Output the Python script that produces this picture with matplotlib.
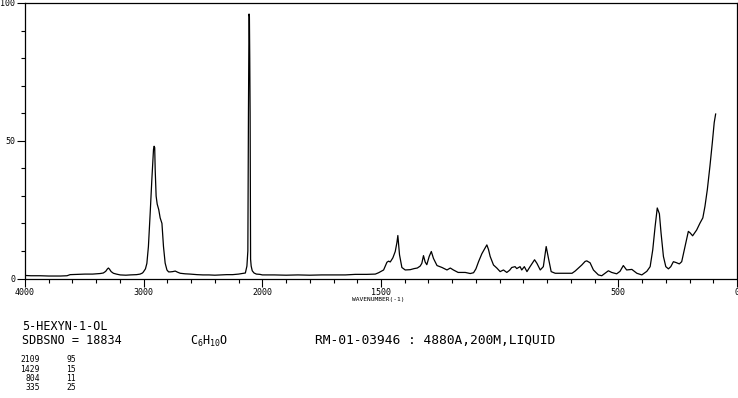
import numpy as np
import matplotlib
matplotlib.use("Agg")
import matplotlib.pyplot as plt
from matplotlib.ticker import FixedLocator

# Raman spectrum of 5-hexyn-1-ol
wavenumber = [
    4000, 3950, 3873, 3800, 3700, 3646, 3620, 3560, 3494, 3430, 3367, 3340, 3320, 3305,
    3297, 3288, 3274, 3255, 3230, 3198, 3150, 3114, 3060, 3030, 3010, 3002, 2985, 2973,
    2960, 2945, 2931, 2917, 2912, 2907, 2903, 2895, 2886, 2873, 2861, 2846, 2833, 2819,
    2804, 2790, 2776, 2755, 2734, 2715, 2692, 2650, 2608, 2550, 2500, 2450, 2400, 2350,
    2300, 2250, 2200, 2170, 2143, 2130, 2122, 2117, 2112, 2109, 2106, 2103, 2099, 2094,
    2085, 2070, 2050, 2020, 2000, 1950, 1900, 1850, 1800, 1750, 1700, 1650, 1608, 1560,
    1524, 1510, 1489, 1475, 1468, 1461, 1450, 1440, 1433, 1429, 1422, 1412, 1398, 1377,
    1360, 1347, 1335, 1328, 1321, 1314, 1307, 1297, 1288, 1279, 1264, 1243, 1222, 1208,
    1195, 1175, 1145, 1124, 1110, 1100, 1089, 1075, 1062, 1054, 1047, 1040, 1026, 1012,
    998, 984, 970, 958, 949, 935, 928, 914, 907, 896, 885, 872, 853, 843,
    829, 816, 808, 804, 795, 783, 766, 737, 695, 682, 668, 654, 640, 633,
    619, 605, 584, 570, 556, 542, 528, 507, 493, 479, 465, 443, 422, 401,
    380, 366, 355, 345, 336, 327, 320, 310, 300, 289, 279, 268, 257, 243,
    233, 219, 205, 198, 187, 170, 156, 144, 135, 125, 114, 104, 96, 90,
]
intensity = [
    1.1, 1.0, 1.0, 0.9, 0.9, 1.0, 1.4, 1.5, 1.6, 1.6, 1.8, 2.0, 2.6, 3.5,
    3.8, 3.4, 2.5, 1.9, 1.6, 1.3, 1.2, 1.3, 1.4, 1.6, 2.0, 2.4, 3.5, 5.5,
    11.6, 23.8, 36.0, 46.9, 48.0, 47.5, 39.6, 29.9, 27.0, 25.0, 22.0, 20.0, 11.6, 5.6,
    3.1, 2.4, 2.4, 2.5, 2.7, 2.3, 1.9, 1.7, 1.6, 1.4, 1.3, 1.3, 1.2, 1.3,
    1.4, 1.4, 1.6, 1.8, 2.0, 4.5, 10.0, 60.0, 96.0, 95.0, 80.0, 60.0, 7.0, 4.5,
    2.8, 2.0, 1.6, 1.5, 1.3, 1.3, 1.2, 1.3, 1.2, 1.3, 1.3, 1.3, 1.5, 1.5,
    1.6, 2.1, 3.1, 5.9, 6.3, 6.0, 7.5, 9.8, 13.0, 15.6, 8.6, 4.0, 3.1, 3.2,
    3.6, 3.8, 4.5, 5.5, 8.3, 6.0, 5.0, 8.0, 9.8, 7.3, 4.7, 4.0, 3.1, 3.8,
    3.1, 2.2, 2.2, 1.8, 2.1, 3.5, 6.1, 9.0, 11.0, 12.2, 10.5, 8.0, 4.9, 3.8,
    2.5, 3.1, 2.2, 3.0, 4.0, 4.3, 3.6, 4.3, 3.1, 4.3, 2.5, 4.3, 6.8, 5.5,
    3.1, 4.3, 9.0, 11.6, 7.6, 2.5, 1.9, 1.9, 1.9, 2.7, 3.8, 4.9, 6.2, 6.4,
    5.7, 3.1, 1.3, 1.0, 1.9, 2.8, 2.2, 1.7, 2.6, 4.7, 3.1, 3.3, 1.9, 1.3,
    2.6, 4.3, 10.4, 18.9, 25.6, 23.5, 16.5, 8.0, 4.3, 3.5, 4.3, 6.1, 5.8, 5.3,
    6.1, 11.6, 17.1, 16.6, 15.5, 17.6, 20.1, 22.0, 26.2, 32.3, 40.8, 49.3, 56.6, 59.7,
]

x_major = [4000, 3000, 2000, 1500, 500, 0]
x_labels = ["4000", "3000", "2000", "1500", "500", "0"]
y_major = [0, 50, 100]

peak_wn = ["2109", "1429", "804", "335"]
peak_int = ["95", "15", "11", "25"]

compound = "5-HEXYN-1-OL"
sdbs_no = "SDBSNO = 18834"
formula = r"C$\mathregular{_6}$H$\mathregular{_{10}}$O"
conditions = "RM-01-03946 : 4880A,200M,LIQUID"


def fwd(x):
    x = np.asarray(x, dtype=float)
    return np.where(x <= 2000, x, 2000 + (x - 2000) / 2)


def inv(x):
    x = np.asarray(x, dtype=float)
    return np.where(x <= 2000, x, 2000 + (x - 2000) * 2)


W, H = 738, 398
fig = plt.figure(figsize=(W / 100, H / 100), dpi=100)
ax = fig.add_axes([25 / W, (H - 278.5) / H, 712 / W, 275.5 / H])

ax.plot(wavenumber, intensity, color="black", lw=0.9)
ax.set_xscale("function", functions=(fwd, inv))
ax.set_xlim(4000, 0)
ax.set_ylim(0, 100)

minor_x = list(range(4000, 2000, -200)) + list(range(2000, -1, -100))
ax.xaxis.set_major_locator(FixedLocator(x_major))
ax.xaxis.set_minor_locator(FixedLocator(minor_x))
ax.set_xticklabels(x_labels)
ax.yaxis.set_major_locator(FixedLocator(y_major))
ax.yaxis.set_minor_locator(FixedLocator(range(0, 101, 10)))

for lab in ax.get_xticklabels() + ax.get_yticklabels():
    lab.set_fontfamily("DejaVu Sans Mono")
    lab.set_fontsize(6)
ax.tick_params(which="major", direction="out", length=6, width=0.8, pad=1)
ax.tick_params(which="minor", direction="out", length=3, width=0.8)
for s in ax.spines.values():
    s.set_linewidth(0.9)

fig.text(378 / W, 1 - 300 / H, "WAVENUMBER(-1)", family="DejaVu Sans Mono",
         size=4.5, ha="center", va="center")

fig.text(22 / W, 1 - 326 / H, compound, family="DejaVu Sans Mono", size=8.5, va="center")
fig.text(22 / W, 1 - 341 / H, sdbs_no, family="DejaVu Sans Mono", size=8.5, va="center")
fig.text(190 / W, 1 - 341 / H, formula, family="DejaVu Sans Mono", size=8.5, va="center")
fig.text(315 / W, 1 - 341 / H, conditions, family="DejaVu Sans Mono", size=9.3, va="center")

for i, (w, v) in enumerate(zip(peak_wn, peak_int)):
    y = 1 - (360 + 9.3 * i) / H
    fig.text(40 / W, y, w, family="DejaVu Sans Mono", size=5.8, ha="right", va="center")
    fig.text(76 / W, y, v, family="DejaVu Sans Mono", size=5.8, ha="right", va="center")

fig.savefig("out.png", dpi=100)
